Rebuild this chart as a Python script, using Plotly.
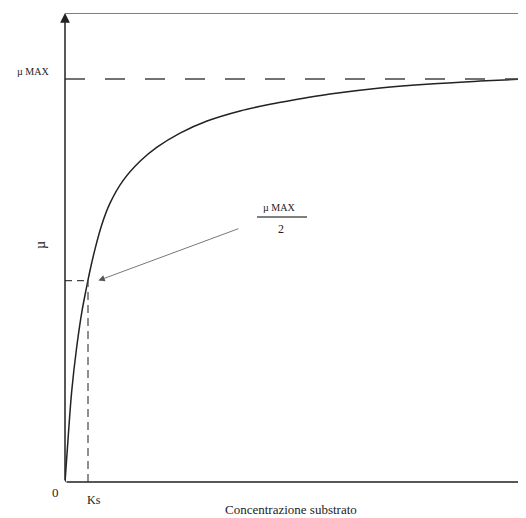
import plotly.graph_objects as go

# Data (arbitrary units: Ks = 1, mu_max = 1)
substrate = [0, 0.143, 0.291, 0.509, 0.726, 0.943, 1.087, 1.304, 1.596, 1.957, 2.522,
             3.261, 4.0, 5.0, 6.174, 7.609, 9.043, 10.52, 11.52, 13.70, 15.87, 18.04, 19.9]
mu = [0, 0.115, 0.225, 0.335, 0.420, 0.485, 0.525, 0.578, 0.638, 0.692, 0.748,
      0.796, 0.831, 0.866, 0.896, 0.921, 0.939, 0.954, 0.963, 0.978, 0.988, 0.995, 1.0]
MU_MAX = 1.0
KS = 1.0
X_MAX = 20.04
Y_MAX = 1.164

serif = "Liberation Serif, Times New Roman, serif"

# page has an 8px body margin: reference pixel (X, Y) -> figure pixel (X-8, Y-8)
OFF = 8
W, H = 518, 510
l, r, t, b = 65 - OFF, 0, 13 - OFF, H - (482 - OFF)
pw, ph = W - l - r, H - t - b


def px(xp):
    return (xp - OFF - l) / pw


def py(yp):
    return (H - b - (yp - OFF)) / ph


fig = go.Figure()
fig.add_trace(go.Scatter(x=substrate, y=mu, mode="lines",
                         line=dict(color="#222222", width=1.5, shape="spline", smoothing=1.0),
                         hoverinfo="skip", showlegend=False))

shapes = [
    dict(type="line", x0=0, x1=X_MAX, y0=MU_MAX, y1=MU_MAX, xref="x", yref="y",
         line=dict(color="#444444", width=1.5, dash="20px,20px")),
    dict(type="line", x0=0, x1=KS, y0=MU_MAX / 2, y1=MU_MAX / 2, xref="x", yref="y",
         line=dict(color="#444444", width=1.2, dash="7px,5px")),
    dict(type="line", x0=KS, x1=KS, y0=0, y1=MU_MAX / 2, xref="x", yref="y",
         line=dict(color="#444444", width=1.2, dash="8px,5px")),
    dict(type="line", x0=0, x1=X_MAX, y0=Y_MAX, y1=Y_MAX, xref="x", yref="y",
         line=dict(color="#555555", width=1.5)),
    dict(type="line", x0=px(257), x1=px(307), y0=py(217), y1=py(217), xref="paper", yref="paper",
         line=dict(color="#555555", width=1.5)),
]

annotations = [
    dict(x=0, y=Y_MAX, ax=0, ay=0, xref="x", yref="y", axref="x", ayref="y",
         text="", showarrow=True, arrowhead=2, arrowsize=1.3, arrowwidth=1.5, arrowcolor="#222222"),
    dict(x=X_MAX + 0.25, y=0, ax=0, ay=0, xref="x", yref="y", axref="x", ayref="y",
         text="", showarrow=True, arrowhead=2, arrowsize=1.3, arrowwidth=1.5, arrowcolor="#222222"),
    dict(x=KS + 0.45, y=MU_MAX / 2, ax=7.6, ay=0.63, xref="x", yref="y", axref="x", ayref="y",
         text="", showarrow=True, arrowhead=2, arrowsize=1.6, arrowwidth=0.8, arrowcolor="#555555"),
]

texts = [
    dict(text="µ MAX", x=px(33), y=py(72), size=10),
    dict(text="µ MAX", x=px(279), y=py(207), size=10),
    dict(text="2", x=px(281), y=py(229), size=12),
    dict(text="0", x=px(55), y=py(492), size=13),
    dict(text="Ks", x=px(94), y=py(500), size=12),
    dict(text="Concentrazione substrato", x=px(291), y=py(509), size=13),
]
for tx in texts:
    annotations.append(dict(text=tx["text"], x=tx["x"], y=tx["y"], xref="paper", yref="paper",
                            showarrow=False, xanchor="center", yanchor="middle",
                            font=dict(family=serif, size=tx["size"], color="#222222")))
annotations.append(dict(text="µ", x=px(40), y=py(245), xref="paper", yref="paper",
                        showarrow=False, textangle=-90, xanchor="center", yanchor="middle",
                        font=dict(family=serif, size=14, color="#222222")))

fig.update_layout(
    width=W, height=H,
    margin=dict(l=l, r=r, t=t, b=b),
    plot_bgcolor="white", paper_bgcolor="white",
    xaxis=dict(range=[0, X_MAX], visible=False),
    yaxis=dict(range=[0, Y_MAX], visible=False),
    shapes=shapes,
    annotations=annotations,
)
fig.write_html("out.html")
